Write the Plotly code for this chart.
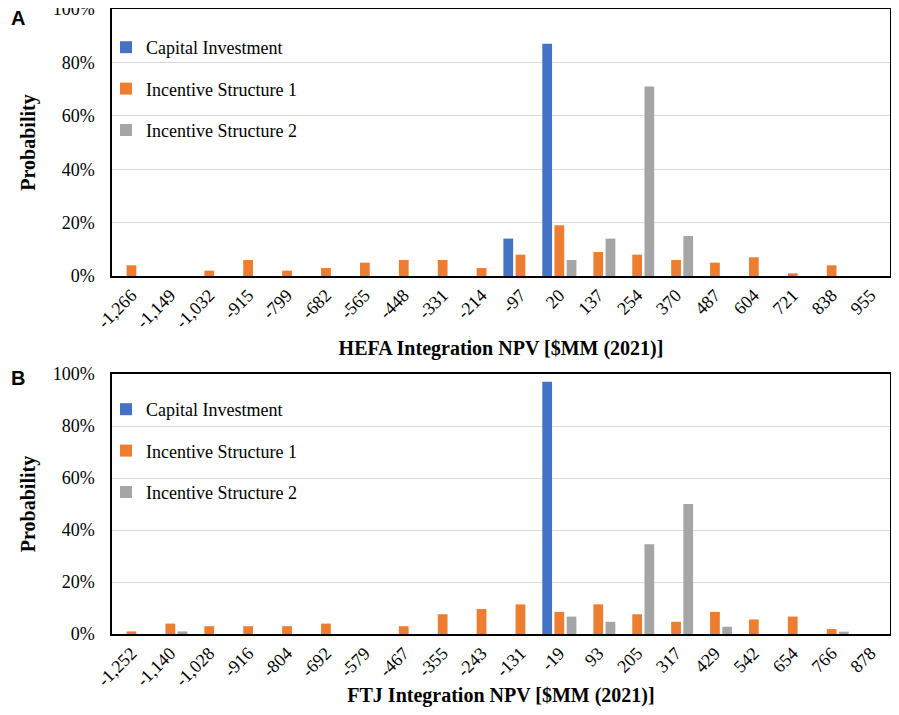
import plotly.graph_objects as go

HEFA_BINS = ["-1,266", "-1,149", "-1,032", "-915", "-799", "-682", "-565", "-448", "-331", "-214",
             "-97", "20", "137", "254", "370", "487", "604", "721", "838", "955"]
HEFA_CAPITAL = [0, 0, 0, 0, 0, 0, 0, 0, 0, 0, 14, 87, 0, 0, 0, 0, 0, 0, 0, 0]
HEFA_INC1 = [4, 0, 2, 6, 2, 3, 5, 6, 6, 3, 8, 19, 9, 8, 6, 5, 7, 1, 4, 0]
HEFA_INC2 = [0, 0, 0, 0, 0, 0, 0, 0, 0, 0, 0, 6, 14, 71, 15, 0, 0, 0, 0, 0]

FTJ_BINS = ["-1,252", "-1,140", "-1,028", "-916", "-804", "-692", "-579", "-467", "-355", "-243",
            "-131", "-19", "93", "205", "317", "429", "542", "654", "766", "878"]
FTJ_CAPITAL = [0, 0, 0, 0, 0, 0, 0, 0, 0, 0, 0, 97, 0, 0, 0, 0, 0, 0, 0, 0]
FTJ_INC1 = [1, 4, 3, 3, 3, 4, 0, 3, 7.6, 9.6, 11.4, 8.5, 11.4, 7.6, 4.7, 8.5, 5.6, 6.7, 1.9, 0]
FTJ_INC2 = [0, 1, 0, 0, 0, 0, 0, 0, 0, 0, 0, 6.7, 4.7, 34.5, 50, 2.8, 0, 0, 0.9, 0]

COLORS = {"capital": "#4472C4", "inc1": "#ED7D31", "inc2": "#A5A5A5"}
SERIES = [("Capital Investment", "capital"), ("Incentive Structure 1", "inc1"), ("Incentive Structure 2", "inc2")]

# page body has an 8px margin, so the figure is a bit smaller than the window
PAGE_PAD = 8
W, H = 899 - 2 * PAGE_PAD, 715 - 2 * PAGE_PAD
SERIF = "Liberation Serif"


def px_x(v):
    # window pixel -> paper fraction
    return min(1.0, (v - PAGE_PAD) / W)


def px_y(v):
    return max(0.0, min(1.0, 1 - (v - PAGE_PAD) / H))


fig = go.Figure()

panels = [
    ("x", "y", "legend", HEFA_BINS, [HEFA_CAPITAL, HEFA_INC1, HEFA_INC2]),
    ("x2", "y2", "legend2", FTJ_BINS, [FTJ_CAPITAL, FTJ_INC1, FTJ_INC2]),
]

for xa, ya, leg, bins, data in panels:
    for (label, key), vals in zip(SERIES, data):
        fig.add_trace(
            go.Bar(
                x=bins,
                y=vals,
                name=label,
                xaxis=xa,
                yaxis=ya,
                legend=leg,
                legendgroup=leg + key,
                marker_color=COLORS[key],
                marker_line_width=0,
                hovertemplate="%{x}<br>" + label + ": %{y}%<extra></extra>",
            )
        )

axis_font = dict(family=SERIF, size=18, color="#000000")
title_font = dict(family=SERIF, size=20, color="#000000", weight="bold")

xcommon = dict(
    type="category",
    domain=[px_x(112), px_x(890)],
    range=[-0.5, 19.5],
    tickangle=-45,
    tickfont=axis_font,
    showline=True,
    mirror=True,
    linecolor="#000000",
    linewidth=1.5,
    ticks="",
    showgrid=False,
    automargin=False,
)
ycommon = dict(
    range=[0, 100],
    dtick=20,
    ticksuffix="%",
    tickfont=axis_font,
    ticklabelstandoff=12,
    ticklabeloverflow="allow",
    showline=True,
    mirror=True,
    linecolor="#000000",
    linewidth=1.5,
    gridcolor="#d9d9d9",
    gridwidth=1.2,
    zeroline=False,
    ticks="",
    automargin=False,
)

legend_common = dict(
    font=dict(family=SERIF, size=18, color="#000000"),
    bgcolor="rgba(0,0,0,0)",
    tracegroupgap=15,
    xanchor="left",
    yanchor="top",
)

fig.update_layout(
    width=W,
    height=H,
    margin=dict(l=0, r=0, t=0, b=0),
    paper_bgcolor="white",
    plot_bgcolor="white",
    barmode="group",
    bargap=0.06,
    bargroupgap=0.2,
    xaxis=dict(xcommon, anchor="y",
               title=dict(text="HEFA Integration NPV [$MM (2021)]", font=title_font, standoff=10)),
    yaxis=dict(ycommon, anchor="x", domain=[px_y(276), px_y(9)],
               title=dict(text="Probability", font=title_font, standoff=12)),
    xaxis2=dict(xcommon, anchor="y2",
                title=dict(text="FTJ Integration NPV [$MM (2021)]", font=title_font, standoff=10)),
    yaxis2=dict(ycommon, anchor="x2", domain=[px_y(634), px_y(374)],
                title=dict(text="Probability", font=title_font, standoff=12)),
    legend=dict(legend_common, x=px_x(106), y=px_y(29)),
    legend2=dict(legend_common, x=px_x(106), y=px_y(391)),
    annotations=[
        dict(text="<b>A</b>", x=px_x(9), y=px_y(18), xref="paper", yref="paper",
             xanchor="left", yanchor="middle", showarrow=False,
             font=dict(family="Liberation Sans", size=20, color="#000000")),
        dict(text="<b>B</b>", x=px_x(9), y=px_y(378), xref="paper", yref="paper",
             xanchor="left", yanchor="middle", showarrow=False,
             font=dict(family="Liberation Sans", size=20, color="#000000")),
    ],
)

fig.write_html("out.html")
